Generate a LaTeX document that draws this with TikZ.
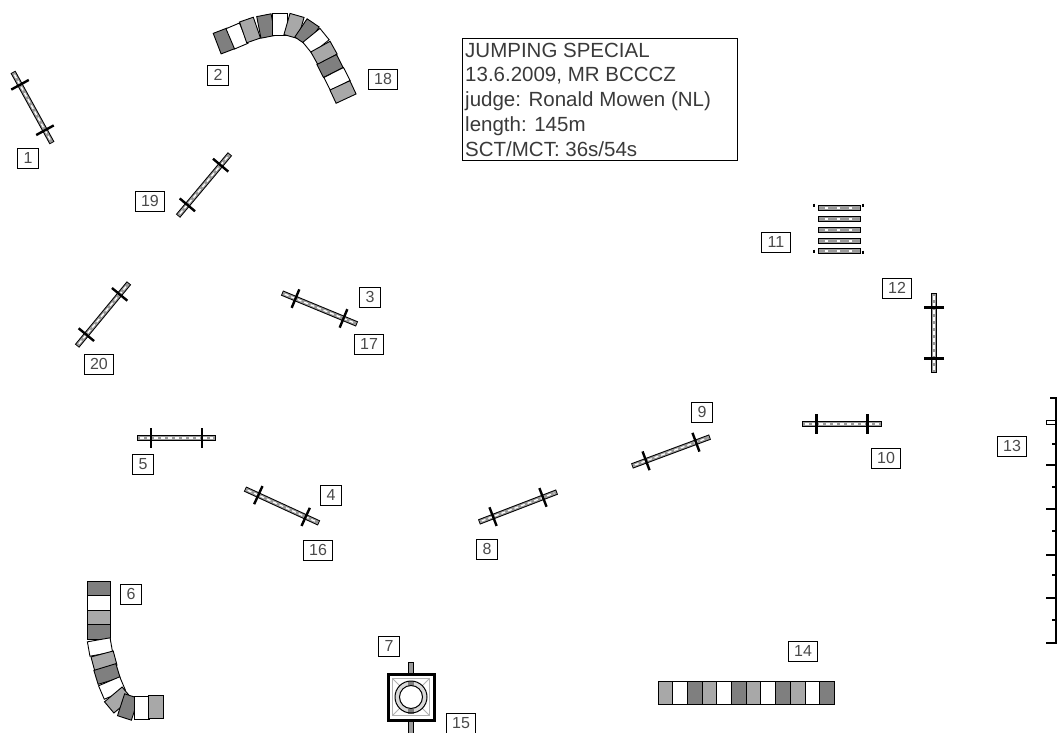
\documentclass[tikz,border=0pt]{standalone}
\usepackage{fontspec}
\setmainfont{Liberation Sans}
\usetikzlibrary{calc}
\definecolor{tdark}{HTML}{7F7F7F}
\definecolor{tgray}{HTML}{A8A8A8}
\definecolor{pgray}{HTML}{9A9A9A}
\definecolor{txt}{HTML}{4A4A4A}
\definecolor{itxt}{HTML}{3A3A3A}
\newcommand{\fencejump}[2]{%
  \draw[poleout] (#1) -- (#2);
  \draw[polein] (#1) -- (#2);
  \draw[polecore] (#1) -- (#2);
  \draw[wing] ($(#1)!0.18!(#2)!10pt!90:(#2)$) -- ($(#1)!0.18!(#2)!10pt!-90:(#2)$);
  \draw[wing] ($(#1)!0.82!(#2)!10pt!90:(#2)$) -- ($(#1)!0.82!(#2)!10pt!-90:(#2)$);
}
\tikzset{
  lab/.style={draw=black, line width=1pt, text=txt, font=\fontsize{16}{16}\selectfont,
    inner xsep=6pt, inner ysep=1pt, minimum height=20pt, minimum width=20pt},
  infoline/.style={anchor=base west, inner sep=0pt, text=itxt, font=\fontsize{20.5}{24}\selectfont},
  poleout/.style={line width=5.5pt, black},
  polein/.style={line width=3.5pt, pgray, shorten <=0.9pt, shorten >=0.9pt},
  polecore/.style={line width=1.3pt, white, dash pattern=on 4pt off 3pt, shorten <=3pt, shorten >=3pt},
  wing/.style={line width=2.4pt, black},
  tseg/.style={draw=black, line width=0.9pt},
}
\begin{document}
\begin{tikzpicture}[x=1pt,y=-1pt]
\useasboundingbox (0,0) rectangle (1061,732);
\fill[white] (0,0) rectangle (1061,732);

% ---------- info box ----------
\node[draw=black, line width=1pt, minimum width=275pt, minimum height=122pt, anchor=north west, inner sep=0pt] (info) at (462,38) {};
\node[infoline] (i1) at (465,57) {JUMPING SPECIAL};
\node[infoline] (i2) at (465,81) {13.6.2009, MR BCCCZ};
\node[infoline] (i3) at (465,106) {judge: Ronald Mowen (NL)};
\node[infoline] (i4) at (465,131) {length: 145m};
\node[infoline] (i5) at (465,156) {SCT/MCT: 36s/54s};

% ---------- tunnel 2/18 ----------
\foreach \cx/\cy/\ang/\col in {224/41/21/tdark, 237/36/23/white, 250/30/19/tgray, 266/26/11/tdark,
  280/24/0/white, 294/26/-16/tgray, 307/32/-34/tdark, 316/41/-51/white, 324/53/-61/tgray,
  330/66/-63/tdark, 337/79/-63/white, 343/92/-65/tgray}
  \draw[tseg, fill=\col, shift={(\cx,\cy)}, rotate=\ang] (-7.3,-11) rectangle (7.3,11);

% ---------- tunnel 6 ----------
\foreach \cx/\cy/\ang/\col in {99/589/-90/tdark, 99/603/-90/white, 99/618/-90/tgray, 99/632/-90/tdark,
  100/647/-80/white, 104/661/-75/tgray, 107/674/-73/tdark, 112/688/-67/white, 118/700/-50/tgray,
  128/707/-18/tdark, 142/708/0/white, 156/707/0/tgray}
  \draw[tseg, fill=\col, shift={(\cx,\cy)}, rotate=\ang] (-7.3,-11.5) rectangle (7.3,11.5);

% ---------- tunnel 14 ----------
\foreach \i/\col in {0/tgray,1/white,2/tdark,3/tgray,4/white,5/tdark,6/tgray,7/white,8/tdark,9/tgray,10/white,11/tdark}
  \draw[tseg, fill=\col] ({658+14.7*\i},681) rectangle ({658+14.7*(\i+1)},704);

% ---------- simple fences ----------
\coordinate (f1a) at (13,72);   \coordinate (f1b) at (52,143);
\coordinate (f19a) at (178,216); \coordinate (f19b) at (230,154);
\coordinate (f20a) at (77,346); \coordinate (f20b) at (129,283);
\coordinate (f3a) at (282,293); \coordinate (f3b) at (357,324);
\coordinate (f5a) at (137,438); \coordinate (f5b) at (216,438);
\coordinate (f4a) at (245,489); \coordinate (f4b) at (319,523);
\coordinate (f8a) at (479,522); \coordinate (f8b) at (557,492);
\coordinate (f9a) at (632,466); \coordinate (f9b) at (710,437);
\coordinate (f10a) at (802,424); \coordinate (f10b) at (882,424);
\coordinate (f12a) at (934,293); \coordinate (f12b) at (934,373);
\fencejump{f1a}{f1b}
\fencejump{f19a}{f19b}
\fencejump{f20a}{f20b}
\fencejump{f3a}{f3b}
\fencejump{f5a}{f5b}
\fencejump{f4a}{f4b}
\fencejump{f8a}{f8b}
\fencejump{f9a}{f9b}
\fencejump{f10a}{f10b}
\fencejump{f12a}{f12b}

% ---------- obstacle 11 (stacked rails) ----------
\foreach \yy in {208,219,230,241,251}{
  \draw[fill=pgray, line width=0.9pt] (818,\yy-2.6) rectangle (860,\yy+2.6);
  \draw[white, line width=1.1pt, dash pattern=on 3pt off 9pt] (825,\yy) -- (856,\yy);
}
\foreach \px/\py in {814/205, 863/205, 814/251, 863/252}
  \draw[line width=1.2pt] (\px,\py-1.5) -- (\px,\py+1.5);

% ---------- obstacle 13 (long line) ----------
\draw[line width=2.6pt] (1056,398) -- (1056,643);
\draw[line width=2pt] (1050,398) -- (1057,398);
\draw[line width=1pt] (1046,420) rectangle (1055,424);
\foreach \yy in {465,509,555,598,643}
  \draw[line width=2.4pt] (1046,\yy) -- (1057,\yy);
\foreach \yy in {444,487,531,575,620}
  \draw[line width=1.4pt] (1052,\yy) -- (1056,\yy);

% ---------- obstacle 7/15 ----------
\draw[line width=6pt] (411,662) -- (411,733);
\draw[line width=3.4pt, pgray] (411,663) -- (411,733);
\draw[line width=3pt, fill=white] (388,674) rectangle (434,720);
\draw[line width=0.8pt, gray!60] (392.5,678.5) rectangle (429.5,715.5);
\draw[line width=0.8pt, gray!60] (392.5,678.5) -- (429.5,715.5) (392.5,715.5) -- (429.5,678.5);
\fill[gray!30] (411,697) circle (16);
\fill[white] (411,697) circle (11.5);
\fill[tdark] (408,680.5) rectangle (414,685.5);
\fill[tdark] (408,708.5) rectangle (414,713.5);
\draw[line width=1pt] (411,697) circle (16);
\draw[line width=1pt] (411,697) circle (11.5);

% ---------- number labels ----------
\node[lab] (n1) at (28,158) {1};
\node[lab] (n2) at (218,75) {2};
\node[lab] (n18) at (383,79) {18};
\node[lab] (n19) at (150,201) {19};
\node[lab] (n3) at (370,297) {3};
\node[lab] (n17) at (369,344) {17};
\node[lab] (n20) at (99,364) {20};
\node[lab] (n5) at (143,464) {5};
\node[lab] (n4) at (331,495) {4};
\node[lab] (n16) at (318,550) {16};
\node[lab] (n8) at (487,549) {8};
\node[lab] (n9) at (702,412) {9};
\node[lab] (n10) at (886,458) {10};
\node[lab] (n11) at (776,242) {11};
\node[lab] (n12) at (897,288) {12};
\node[lab] (n13) at (1012,446) {13};
\node[lab] (n6) at (131,594) {6};
\node[lab] (n7) at (389,646) {7};
\node[lab] (n15) at (461,723) {15};
\node[lab] (n14) at (803,651) {14};
\end{tikzpicture}
\end{document}
